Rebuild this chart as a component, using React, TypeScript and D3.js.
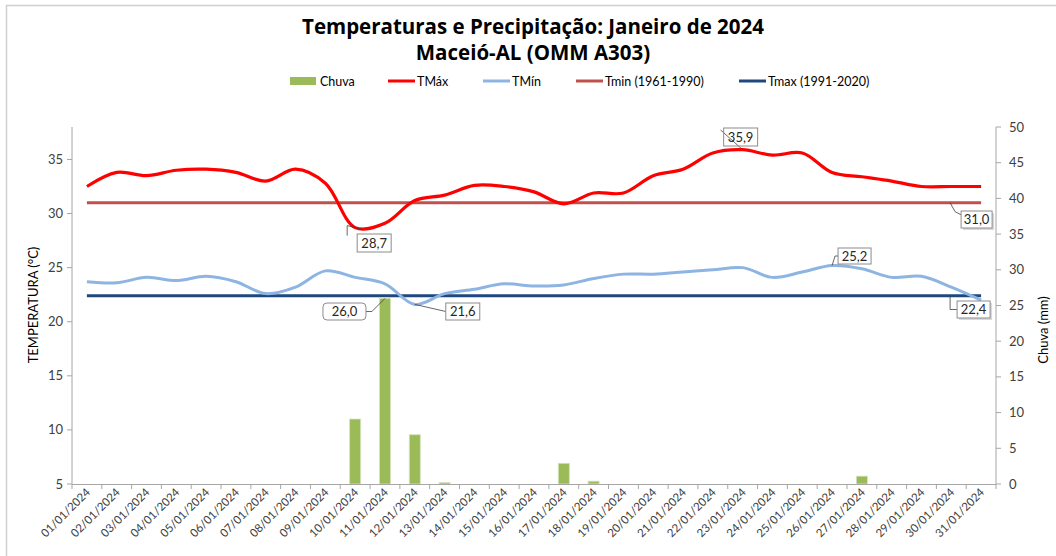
import React from "react";
import * as d3 from "d3";

const days: string[] = Array.from({ length: 31 }, (_, i) => `${String(i + 1).padStart(2, "0")}/01/2024`);

const tmax: number[] = [32.5, 33.8, 33.5, 34.0, 34.1, 33.8, 33.0, 34.1, 32.8, 28.7, 29.1, 31.2, 31.7, 32.6, 32.5, 32.0, 30.9, 31.9, 31.9, 33.5, 34.1, 35.6, 35.9, 35.4, 35.6, 33.8, 33.4, 33.0, 32.5, 32.5, 32.5];
const tmin: number[] = [23.7, 23.6, 24.1, 23.8, 24.2, 23.7, 22.6, 23.2, 24.7, 24.1, 23.5, 21.6, 22.6, 23.0, 23.5, 23.3, 23.4, 24.0, 24.4, 24.4, 24.6, 24.8, 25.0, 24.1, 24.6, 25.2, 24.9, 24.1, 24.2, 23.2, 22.0];
const rain: number[] = [0, 0, 0, 0, 0, 0, 0, 0, 0, 9.1, 26.0, 6.9, 0.2, 0, 0, 0, 2.9, 0.4, 0, 0, 0, 0, 0, 0, 0, 0, 1.1, 0, 0, 0, 0];
const normTmin1961: number = 31.0;
const normTmax1991: number = 22.4;

const leftTicks: number[] = [5, 10, 15, 20, 25, 30, 35];
const rightTicks: number[] = [0, 5, 10, 15, 20, 25, 30, 35, 40, 45, 50];

const titleLines: string[] = ["Temperaturas e Precipitação: Janeiro de 2024", "Maceió-AL (OMM A303)"];
const legendNames: string[] = ["Chuva", "TMáx", "TMín", "Tmin (1961-1990)", "Tmax (1991-2020)"];

const C = {
  rain: "#9BBB59",
  tmax: "#FF0000",
  tmin: "#8DB4E2",
  ref1: "#C0504D",
  ref2: "#1F497D",
  axis: "#A6A6A6",
  text: "#404040",
};

const fmt = (v: number) => v.toFixed(1).replace(".", ",");

export default function App() {
  const W = 1056, H = 556;
  const L = 72, R = 996, T = 127, B = 484;

  const x = d3.scaleBand<string>().domain(days).range([L, R]).padding(0);
  const cx = (i: number) => (x(days[i]) as number) + x.bandwidth() / 2;
  const yT = d3.scaleLinear().domain([5, 38]).range([B, T]);
  const yR = d3.scaleLinear().domain([0, 50]).range([B, T]);
  const barW = x.bandwidth() * 0.37;

  const line = d3
    .line<number>()
    .x((_, i) => cx(i))
    .y((d) => yT(d))
    .curve(d3.curveCatmullRom.alpha(0.5));

  const font = "Lato, 'Open Sans', sans-serif";

  const iMaxHi = tmax.indexOf(d3.max(tmax) as number);
  const iMaxLo = tmax.indexOf(d3.min(tmax) as number);
  const iMinLo = tmin.indexOf(d3.min(tmin) as number);
  const iMinHi = tmin.indexOf(d3.max(tmin) as number);
  const iRain = rain.indexOf(d3.max(rain) as number);
  const last = days.length - 1;

  const boxes = [
    { px: cx(iMaxHi), py: yT(tmax[iMaxHi]), bx: cx(iMaxHi) - 19, by: 128, w: 34, h: 18, text: fmt(tmax[iMaxHi]), lead: "diag", shadow: false, rounded: false },
    { px: cx(iMaxLo), py: yT(tmax[iMaxLo]), bx: cx(iMaxLo) + 2, by: 234, w: 34, h: 18, text: fmt(tmax[iMaxLo]), lead: "down", shadow: false, rounded: false },
    { px: cx(iRain), py: yR(rain[iRain]), bx: cx(iRain) - 62, by: 303, w: 43, h: 17, text: fmt(rain[iRain]), lead: "left", shadow: false, rounded: true },
    { px: cx(iMinLo), py: yT(tmin[iMinLo]), bx: cx(iMinLo) + 31, by: 303, w: 34, h: 17, text: fmt(tmin[iMinLo]), lead: "right", shadow: false, rounded: false },
    { px: cx(iMinHi), py: yT(tmin[iMinHi]), bx: cx(iMinHi) + 6, by: 248, w: 33, h: 16, text: fmt(tmin[iMinHi]), lead: "up", shadow: false, rounded: false },
    { px: cx(last) - 31, py: yT(normTmin1961), bx: cx(last) - 20, by: 211, w: 31, h: 17, text: fmt(normTmin1961), lead: "ref", shadow: true, rounded: false },
    { px: cx(last) - 31, py: yT(normTmax1991), bx: cx(last) - 24, by: 301, w: 33, h: 17, text: fmt(normTmax1991), lead: "ref2", shadow: true, rounded: false },
  ];

  const leader = (b: any) => {
    const midY = b.by + b.h / 2;
    switch (b.lead) {
      case "diag":
        return `M${b.bx - 3},${b.by + 2}L${b.px},${b.py}`;
      case "down":
        return `M${b.px - 8},${b.py - 2}L${b.px + 8},${b.py + 2}M${b.px - 8},${b.py - 2}L${b.px - 8},${b.py + 8}`;
      case "left":
        return `M${b.bx + b.w},${midY}L${b.bx + b.w + 6},${midY}L${b.px},${b.py}`;
      case "right":
        return `M${b.px},${b.py}L${b.bx},${midY}`;
      case "up":
        return `M${b.px},${b.py}L${b.px + 3},${midY}L${b.bx},${midY}`;
      case "ref":
        return `M${b.px},${b.py}L${b.px + 5},${b.py + 9}L${b.bx},${b.py + 12}`;
      case "ref2":
        return `M${b.px},${b.py}L${b.px},${midY}L${b.bx},${midY}`;
    }
    return "";
  };

  const legendX = [290, 388, 483, 576, 739];
  const legendColors = [C.rain, C.tmax, C.tmin, C.ref1, C.ref2];

  return (
    <svg width={W} height={H} style={{ position: "absolute", left: 0, top: 0, background: "#fff" }} fontFamily={font}>
      <rect x={0} y={0} width={W} height={H} fill="#fff" />
      <rect x={6.5} y={5.5} width={W + 20} height={H + 20} fill="none" stroke="#D0D0D0" strokeWidth={1.5} />

      {titleLines.map((t, i) => (
        <text key={t} x={533} y={34 + i * 26} textAnchor="middle" fontFamily="'Open Sans', sans-serif" fontWeight="bold" fontSize={20.5} fill="#000">
          {t}
        </text>
      ))}

      {legendNames.map((n, i) => (
        <g key={n}>
          {i === 0 ? (
            <rect x={legendX[i]} y={77} width={26} height={8} fill={legendColors[i]} />
          ) : (
            <line x1={legendX[i]} x2={legendX[i] + 27} y1={81} y2={81} stroke={legendColors[i]} strokeWidth={3} />
          )}
          <text x={legendX[i] + (i === 0 ? 30 : 29)} y={85.5} fontSize={12.5} fill="#000">
            {n}
          </text>
        </g>
      ))}

      {rain.map((r, i) =>
        r > 0 ? (
          <rect key={i} x={cx(i) - barW / 2} y={yR(r)} width={barW} height={B - yR(r)} fill={C.rain} stroke="#D7E4BD" strokeWidth={0.8} />
        ) : null
      )}

      <line x1={L} x2={L} y1={T} y2={B} stroke={C.axis} />
      <line x1={R} x2={R} y1={T} y2={B} stroke={C.axis} />
      <line x1={L} x2={R} y1={B + 0.5} y2={B + 0.5} stroke={C.axis} />
      {leftTicks.map((t) => (
        <g key={t}>
          <line x1={L - 5} x2={L} y1={yT(t)} y2={yT(t)} stroke={C.axis} />
          <text x={L - 9} y={yT(t) + 4.5} textAnchor="end" fontSize={13} fill={C.text}>
            {t}
          </text>
        </g>
      ))}
      {rightTicks.map((t) => (
        <g key={t}>
          <line x1={R} x2={R + 5} y1={yR(t)} y2={yR(t)} stroke={C.axis} />
          <text x={R + 13} y={yR(t) + 4.5} textAnchor="start" fontSize={13} fill={C.text}>
            {t}
          </text>
        </g>
      ))}
      {days.map((d, i) => (
        <g key={d}>
          <line x1={x(d) as number} x2={x(d) as number} y1={B} y2={B + 5} stroke={C.axis} />
          <text transform={`translate(${cx(i) + 4},${B + 9}) rotate(-45)`} textAnchor="end" fontSize={11.5} fill={C.text}>
            {d}
          </text>
        </g>
      ))}
      <line x1={R} x2={R} y1={B} y2={B + 5} stroke={C.axis} />

      <text transform={`translate(38,305) rotate(-90)`} textAnchor="middle" fontSize={13} fill="#000">
        TEMPERATURA (°C)
      </text>
      <text transform={`translate(1048,330) rotate(-90)`} textAnchor="middle" fontSize={13} fill="#000">
        Chuva (mm)
      </text>

      <line x1={cx(0)} x2={cx(last)} y1={yT(normTmin1961)} y2={yT(normTmin1961)} stroke={C.ref1} strokeWidth={3} />
      <line x1={cx(0)} x2={cx(last)} y1={yT(normTmax1991)} y2={yT(normTmax1991)} stroke={C.ref2} strokeWidth={3} />

      <path d={line(tmin) as string} fill="none" stroke={C.tmin} strokeWidth={3} />
      <path d={line(tmax) as string} fill="none" stroke={C.tmax} strokeWidth={3.2} />

      {boxes.map((b, i) => (
        <g key={i}>
          <path d={leader(b)} fill="none" stroke="#404040" strokeWidth={0.8} />
          {b.shadow ? <rect x={b.bx + 2} y={b.by + 2} width={b.w} height={b.h} fill="#BFBFBF" opacity={0.6} /> : null}
          <rect
            x={b.bx}
            y={b.by}
            width={b.w}
            height={b.h}
            rx={b.rounded ? 4 : 0}
            fill={b.shadow || b.rounded || b.lead === "down" || b.lead === "right" ? "#fff" : "none"}
            stroke="#8C8C8C"
            strokeWidth={1}
          />
          <text x={b.bx + b.w / 2} y={b.by + b.h / 2 + 4.5} textAnchor="middle" fontSize={13} fill="#262626">
            {b.text}
          </text>
        </g>
      ))}
    </svg>
  );
}
